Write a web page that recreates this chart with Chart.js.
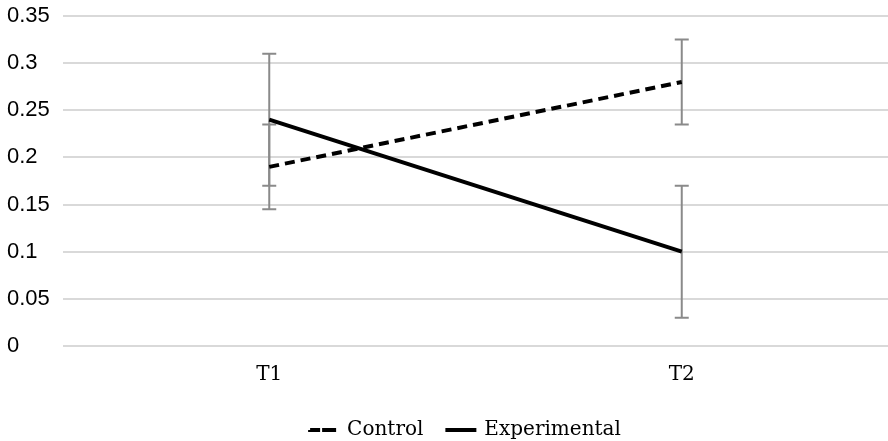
<!DOCTYPE html>
<html>
<head>
<meta charset="utf-8">
<script src="https://cdn.jsdelivr.net/npm/chart.js@4"></script>
<style>
  html, body { margin: 0; padding: 0; background: #fff; }
  #wrap { width: 888px; height: 441px; }
</style>
</head>
<body>
<div id="wrap"><canvas id="myLineChart"></canvas></div>
<script>
const categories = ['T1', 'T2'];
const controlMeans = [0.19, 0.28];
const controlErrors = [0.045, 0.045];
const experimentalMeans = [0.24, 0.10];
const experimentalErrors = [0.07, 0.07];
const yMin = 0, yMax = 0.35, yStep = 0.05;

// error bars drawn through the chart's own scales, under the lines
const errorBars = {
    id: 'errorBars',
    beforeDatasetsDraw(chart) {
        const ctx = chart.ctx;
        const x = chart.scales.x, y = chart.scales.y;
        ctx.save();
        ctx.strokeStyle = '#8a8a8a';
        ctx.lineWidth = 2;
        chart.data.datasets.forEach(ds => {
            ds.data.forEach((v, i) => {
                const e = ds.errors[i];
                const px = x.getPixelForValue(i);
                const top = y.getPixelForValue(v + e);
                const bot = y.getPixelForValue(v - e);
                ctx.beginPath();
                ctx.moveTo(px, top); ctx.lineTo(px, bot);
                ctx.moveTo(px - 7, top); ctx.lineTo(px + 7, top);
                ctx.moveTo(px - 7, bot); ctx.lineTo(px + 7, bot);
                ctx.stroke();
            });
        });
        ctx.restore();
    }
};

// legend sits a little right of centre in the original
const legendShift = {
    id: 'legendShift',
    afterLayout(chart) {
        chart.legend.left += 18;
        chart.legend.right += 18;
    }
};

const ctx = document.getElementById('myLineChart').getContext('2d');
new Chart(ctx, {
    type: 'line',
    data: {
        labels: categories,
        datasets: [{
            label: 'Control',
            data: controlMeans,
            errors: controlErrors,
            borderColor: '#000',
            backgroundColor: '#000',
            borderWidth: 4,
            borderDash: [10, 6],
            pointRadius: 0,
            tension: 0
        }, {
            label: 'Experimental',
            data: experimentalMeans,
            errors: experimentalErrors,
            borderColor: '#000',
            backgroundColor: '#000',
            borderWidth: 4,
            pointRadius: 0,
            tension: 0
        }]
    },
    options: {
        responsive: true,
        maintainAspectRatio: false,
        animation: false,
        layout: { padding: { top: 16, right: 0, bottom: -9, left: 7 } },
        plugins: {
            tooltip: { enabled: false },
            legend: {
                position: 'bottom',
                labels: {
                    boxWidth: 27,
                    boxHeight: 0.01,
                    color: '#000',
                    padding: 24,
                    font: { family: 'DejaVu Serif', size: 20 }
                }
            }
        },
        scales: {
            x: {
                offset: true,
                grid: { display: false },
                border: { display: false },
                ticks: { color: '#000', padding: 9, font: { family: 'DejaVu Serif', size: 20 } }
            },
            y: {
                min: yMin,
                max: yMax,
                afterFit(scale) { scale.width = 56; scale.paddingTop = 0; },
                grid: { color: '#d9d9d9', lineWidth: 2, drawTicks: false },
                border: { display: false },
                ticks: {
                    stepSize: yStep,
                    crossAlign: 'far',
                    color: '#000',
                    padding: 14,
                    font: { family: 'Liberation Sans', size: 22 },
                    callback: v => String(+v.toFixed(2))
                }
            }
        }
    },
    plugins: [errorBars, legendShift]
});
</script>
</body>
</html>
